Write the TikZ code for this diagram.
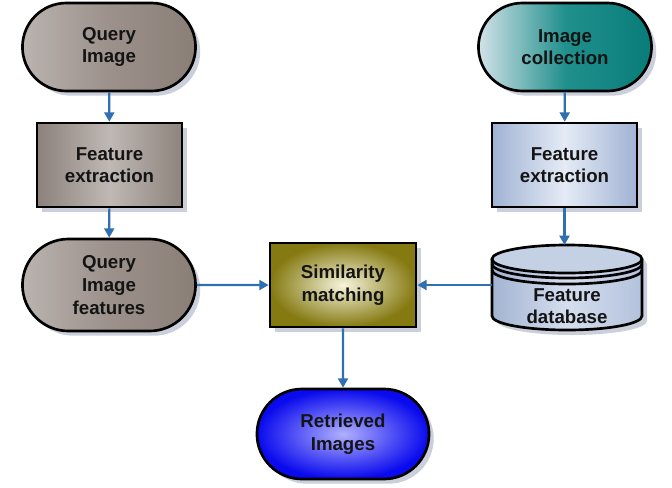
\documentclass[tikz,border=0pt]{standalone}
\usepackage{fontspec}
\setmainfont{Liberation Sans}
\usetikzlibrary{arrows.meta,shapes.misc,shadows}
\definecolor{arrowblue}{HTML}{3070B0}
\definecolor{txt}{HTML}{141414}
\definecolor{dbfill}{HTML}{B3C2DC}
\definecolor{dbtop}{HTML}{C4D0E4}
\definecolor{dbleft}{HTML}{A3B4D2}
\definecolor{dbmid}{HTML}{D4DEEE}
\definecolor{gL}{HTML}{BAB3AF}
\definecolor{gM}{HTML}{9C918B}
\definecolor{gR}{HTML}{8A7E77}
\definecolor{tL}{HTML}{D2E2E8}
\definecolor{tM}{HTML}{21908D}
\definecolor{tR}{HTML}{087C79}
\definecolor{fL}{HTML}{8C817B}
\definecolor{fM}{HTML}{BFB8B4}
\definecolor{fR}{HTML}{8E837D}
\definecolor{bL}{HTML}{A0B2D4}
\definecolor{bM}{HTML}{E4EBF5}
\definecolor{oIn}{HTML}{F6F4DC}
\definecolor{oOut}{HTML}{857A12}
\definecolor{rIn}{HTML}{B0B0FF}
\definecolor{rOut}{HTML}{0A0AEE}
\definecolor{shcol}{HTML}{B4BCCC}
\begin{document}
\begin{tikzpicture}[x=0.75pt,y=-0.75pt,
  every node/.style={font=\fontsize{14}{17}\selectfont\bfseries, text=txt, align=center},
  shad/.style={drop shadow={shadow xshift=3.5pt,shadow yshift=-3.5pt,fill=shcol,opacity=0.7}},
  stadium/.style={rounded rectangle, draw=black, line width=2pt, minimum width=136.5pt, minimum height=66pt, shad},
  boxnode/.style={rectangle, draw=black, line width=2pt, minimum width=108.75pt, minimum height=63pt, shad},
  conn/.style={draw=arrowblue, line width=1.6pt, -{Triangle[length=7pt,width=7.5pt]}}]
\useasboundingbox[fill=white] (0,0) rectangle (672,487);

% database shadow and body
\path[fill=shcol,opacity=0.7] (497,264) -- (497,321) arc[start angle=180,end angle=360,x radius=56.25pt,y radius=10.5pt] -- (647,264) arc[start angle=0,end angle=180,x radius=56.25pt,y radius=10.5pt] -- cycle;
\path[left color=dbleft, right color=dbfill, middle color=dbmid] (492,259) -- (492,316) arc[start angle=180,end angle=360,x radius=56.25pt,y radius=10.5pt] -- (642,259) arc[start angle=0,end angle=180,x radius=56.25pt,y radius=10.5pt] -- cycle;
\path[fill=dbtop] (567,259) ellipse[x radius=56.25pt,y radius=10.5pt];
\draw[line width=2pt] (492,259) -- (492,316) arc[start angle=180,end angle=360,x radius=56.25pt,y radius=10.5pt] -- (642,259);
\draw[line width=2pt] (567,259) ellipse[x radius=56.25pt,y radius=10.5pt];
\draw[line width=2pt] (492,264) arc[start angle=180,end angle=360,x radius=56.25pt,y radius=10.5pt];
\draw[line width=2pt] (492,270) arc[start angle=180,end angle=360,x radius=56.25pt,y radius=10.5pt];
\node[minimum width=112.5pt, minimum height=67.5pt, inner sep=0pt] (db) at (567,285) {};
\coordinate (dbtopc) at (567,245);
\node (dbt) at (567,306) {Feature\\database};

\node[stadium, left color=gL, right color=gR, middle color=gM] (qi) at (109,47) {Query\\Image};
\node[stadium, left color=tL, right color=tR, middle color=tM] (ic) at (565,47) {Image\\collection};
\node[boxnode, left color=fL, right color=fR, middle color=fM] (fe1) at (109.5,165) {Feature\\extraction};
\node[boxnode, left color=bL, right color=bL, middle color=bM] (fe2) at (564.5,165) {Feature\\extraction};
\node[stadium, minimum height=69pt, left color=gL, right color=gR, middle color=gM] (qif) at (109,285) {Query\\Image\\features};
\node[boxnode, minimum width=109.5pt, shading=radial, inner color=oIn, outer color=oOut] (sm) at (343,285) {Similarity\\matching};
\node[stadium, minimum width=135.75pt, minimum height=67.5pt, shading=radial, inner color=rIn, outer color=rOut] (ri) at (343,434) {Retrieved\\Images};

\draw[conn] (qi) -- (fe1);
\draw[conn] (fe1) -- (qif);
\draw[conn] (qif) -- (sm);
\draw[conn] (ic) -- (fe2);
\draw[conn] (fe2.south) -- (fe2.south |- dbtopc);
\draw[conn] (db.west) -- (sm.east);
\draw[conn] (sm) -- (ri);
\end{tikzpicture}
\end{document}
